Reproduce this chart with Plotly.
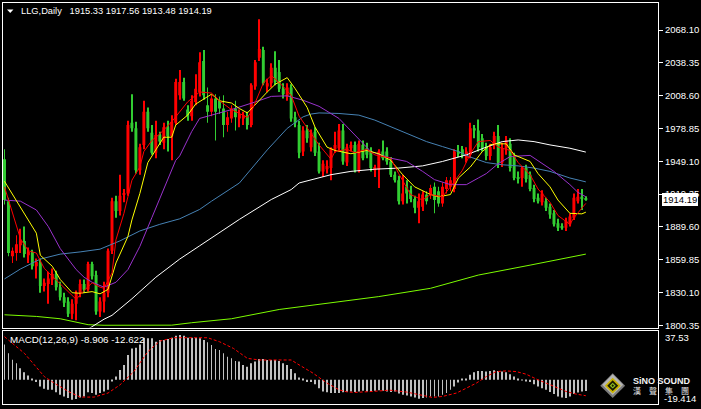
import plotly.graph_objects as go

# ---------------- data ----------------
opens = [1951,1913,1863,1866,1873,1877,1864,1867,1854,1857,1836,1838,1842,1847,1835,1826,1822,1811,1820,1830,
         1838,1833,1856,1846,1813,1822,1830,1868,1913,1904,1919,1920,1984,1979,1941,1964,1994,1975,1957,1973,
         1966,1980,1972,1984,2009,2021,1996,1990,2003,2012,2040,2000,1994,2006,2004,1997,1982,1988,1997,1988,
         1988,1991,1982,2017,2043,2050,2017,2020,2034,2030,2015,2008,2016,1989,1982,1958,1977,1962,1976,1958,
         1940,1942,1943,1960,1961,1977,1948,1961,1964,1941,1964,1961,1958,1941,1942,1958,1958,1949,1937,1932,
         1913,1926,1923,1915,1907,1908,1919,1919,1926,1922,1911,1924,1926,1924,1958,1960,1952,1955,1979,1977,
         1970,1962,1954,1964,1972,1948,1961,1965,1953,1935,1934,1943,1937,1925,1916,1912,1913,1908,1902,1893,
         1890,1889,1892,1898,1913,1917,1915.33]
highs = [1960,1916,1871,1882,1888,1890,1871,1869,1861,1861,1843,1849,1852,1850,1840,1830,1826,1824,1832,1842,
         1842,1858,1858,1850,1826,1840,1870,1916,1918,1937,1924,1986,2010,1985,1965,2004,1998,1982,1986,1976,
         1984,1986,1991,2024,2032,2025,2000,2009,2028,2048,2050,2016,2010,2010,2008,2009,1994,2000,2004,1996,
         1994,1994,2020,2041,2078,2053,2024,2038,2049,2041,2020,2020,2019,1994,1986,1981,1982,1978,1980,1966,
         1950,1950,1962,1976,1983,1983,1965,1967,1967,1968,1968,1966,1962,1946,1960,1968,1962,1953,1940,1936,
         1937,1932,1927,1918,1920,1922,1922,1928,1930,1926,1930,1935,1935,1960,1964,1963,1962,1984,1982,1987,
         1974,1966,1965,1976,1982,1966,1972,1970,1957,1940,1945,1946,1940,1928,1920,1923,1916,1911,1905,1897,
         1893,1898,1902,1920,1924,1924,1917.56]
lows = [1910,1863,1857,1859,1866,1862,1857,1851,1843,1830,1831,1820,1837,1832,1823,1817,1808,1806,1805,1826,
        1830,1831,1842,1810,1808,1812,1826,1865,1898,1900,1912,1918,1976,1938,1937,1960,1976,1955,1952,1964,
        1960,1958,1950,1982,2005,2004,1986,1986,2000,2008,2005,1984,1990,1968,1992,1971,1976,1984,1977,1980,
        1982,1978,1980,2014,2040,2018,2012,2016,2018,2012,2006,2004,1985,1980,1952,1954,1966,1958,1954,1938,
        1935,1938,1932,1957,1958,1946,1945,1958,1939,1939,1950,1952,1940,1935,1925,1950,1946,1935,1930,1910,
        1910,1911,1912,1902,1893,1904,1910,1915,1902,1908,1908,1920,1922,1921,1953,1952,1948,1952,1970,1958,
        1958,1950,1950,1960,1943,1944,1955,1940,1932,1929,1926,1930,1922,1912,1911,1909,1904,1897,1890,1886,
        1887,1886,1890,1896,1911,1905,1913.48]
closes = [1914,1866,1868,1874,1877,1865,1867,1854,1858,1836,1839,1843,1847,1835,1826,1821,1811,1820,1830,1838,
          1833,1856,1845,1813,1822,1830,1868,1913,1904,1918,1920,1982,1979,1941,1962,1994,1979,1957,1973,1967,
          1980,1972,1985,2021,2021,2006,1990,2004,2015,2039,2009,1994,2006,1994,1997,1982,1989,1997,1989,1992,
          1991,1982,2018,2039,2051,2020,2020,2034,2021,2015,2010,2016,1988,1984,1957,1977,1970,1975,1957,1940,
          1947,1945,1961,1964,1977,1949,1962,1964,1941,1965,1952,1955,1943,1944,1958,1952,1949,1937,1932,1913,
          1920,1920,1915,1907,1913,1919,1913,1925,1914,1911,1926,1932,1932,1958,1956,1955,1958,1979,1977,1962,
          1961,1954,1962,1972,1948,1961,1968,1943,1934,1934,1943,1933,1924,1915,1913,1920,1907,1901,1892,1889,
          1889,1895,1899,1916,1917,1915,1914.19]
idx = list(range(len(closes)))

# moving averages (candle index, value)
ma_red_i = [0,2,4,6,8,10,12,15,17,18,20,22,24,25,27,28,30,32,34,35,37,39,42,46,49,52,54,57,61,62,65,67,70,72,74,
            77,79,82,83,86,88,91,93,97,99,102,105,107,110,112,115,117,119,122,124,127,129,132,134,137,139,142,143,146]
ma_red_v = [1926,1903,1879,1868,1866,1852,1845,1835,1828,1824,1832,1839,1835,1834,1848,1878,1902,1932,1944,1958,
            1968,1974,1985,2003,2012,2011,2004,1996,1989,1994,2020,2027,2017,2009,1990,1975,1964,1951,1958,1960,
            1957,1960,1955,1952,1938,1919,1914,1919,1917,1926,1941,1956,1967,1968,1962,1959,1948,1937,1924,1912,
            1900,1892,1898,1911]
ma_yel_i = [0,4,8,9,12,14,17,19,22,24,26,28,31,32,34,36,38,40,42,43,46,48,52,54,57,59,61,63,66,68,71,73,76,78,81,
            83,87,91,94,97,100,103,107,109,112,114,117,120,122,123,126,128,132,134,137,139,142,145,146]
ma_yel_v = [1931,1908,1884,1864,1854,1842,1830,1829.5,1831,1829,1833,1857,1881,1896,1920,1948,1960,1971,1971,1982,
            1991,2001,2010,2004,2002,1997,1993,2001,2012,2019,2025,2015,1998,1980,1962,1959,1956,1959,1956,1950,
            1937,1926,1919,1917,1919,1934,1944,1958,1964,1965,1965,1955,1949,1938,1926,1914,1902,1901.5,1903]
ma_pur_i = [0,4,8,11,14,18,20,22,25,28,31,34,37,41,43,44,47,49,52,57,63,67,71,75,79,84,88,92,97,101,105,108,112,
            116,119,121,124,127,132,135,138,142,144,146]
ma_pur_v = [1914,1913,1905,1890,1870,1851,1844,1839.5,1835,1839.5,1851,1872,1898,1932,1950,1954,1976,1988,1991,
            1996,2003,2008,2008.5,2004.5,1999,1988,1973,1958,1952,1949,1940,1932.5,1928,1928,1934,1938,1947,1953.5,
            1954.5,1947.5,1940,1928,1921,1917]
ma_blu_i = [0,4,9,14,19,24,29,34,39,44,49,52,59,66,71,75,77,79,84,89,93,97,102,106,110,114,117,121,125,129,133,
            137,142,146]
ma_blu_v = [1842.5,1851.5,1860.5,1865,1867,1869.5,1877,1886,1892,1897,1905.5,1913,1929.5,1959.5,1979,1989.5,1992,
            1993,1992.5,1991,1986.5,1980.5,1973,1967,1962.5,1958,1953,1948,1946,1945,1943,1940,1934,1930.5]
ma_wht_i = [21,25,27,32,38,44,49,59,67,72,74,77,79,82,87,93,99,105,110,116,121,125,129,133,137,142,146]
ma_wht_v = [1797,1806,1809.5,1824.5,1844,1860.5,1872.5,1896.5,1914.5,1923.5,1929.5,1932.5,1934,1937,1940,1942,
            1943,1945,1949,1955,1962,1967,1968.5,1967,1964,1961,1957.5]
ma_grn_i = [0,8,14,21,25,35,42,47,57,69,82,94,107,119,132,146]
ma_grn_v = [1810,1808.5,1806.4,1801,1800.5,1800.4,1800.6,1802.8,1806.4,1814.8,1820.8,1826.5,1834,1846,1855,1865]

# MACD main (histogram) per candle and signal line
macd_hist = [28.2,21.1,15.9,13.2,9.3,6.0,3.4,0.5,-1.8,-5.3,-7.1,-7.9,-7.9,-9.8,-11.9,-13.2,-14.5,-15.8,-15.3,-14.0,
             -13.2,-9.8,-10.5,-11.9,-10.5,-9.2,-7.9,-1.3,2.6,7.9,11.9,19.8,25.0,25.6,28.2,33.5,33.0,33.0,30.3,31.7,
             31.7,32.4,33.5,35.0,35.6,35.0,33.5,33.5,33.5,33.0,31.7,29.9,27.7,24.6,23.7,21.1,18.4,17.1,15.0,14.5,
             11.9,10.5,13.2,14.5,16.6,16.6,15.8,15.8,15.8,15.0,13.2,11.9,8.7,5.3,1.8,0.3,-1.8,-1.8,-3.4,-6.6,
             -9.2,-9.8,-10.5,-10.5,-10.5,-9.8,-9.5,-9.2,-9.7,-9.2,-8.7,-9.2,-9.2,-8.7,-8.2,-8.7,-9.2,-9.7,-9.2,-10.8,
             -11.9,-12.4,-13.2,-14.0,-15.0,-14.5,-14.0,-13.2,-13.2,-13.2,-11.9,-10.5,-7.9,-5.3,-2.1,0.3,0.8,4.0,6.0,7.1,
             7.1,6.6,7.1,7.6,7.1,6.6,6.0,4.5,2.6,0.8,0.2,-0.8,-1.8,-3.4,-5.3,-6.6,-7.9,-9.7,-11.3,-13.2,
             -14.0,-14.5,-13.2,-11.3,-10.0,-9.2,-8.906]
sig_i = [0,2.5,5,7.5,10,12.5,16,19,22.5,26,29,32.5,36,39,42.5,51,54,57.5,61,64,72,74,77.5,81,84,86,88,92.5,96.75,
         101,104,107.5,110,113.5,116,118.5,121,123.5,126,128.5,131,134,137.5,141,143.5,145,146]
sig_v = [34.3,27.7,21.1,11.9,2.6,-2.6,-9.2,-13.7,-13.7,-10.5,-4.0,6.6,22.4,30.8,33.5,33.5,30.3,25.0,17.1,15.8,15.8,
         11.9,5.3,-2.6,-7.9,-9.6,-10.0,-9.2,-8.2,-9.7,-11.9,-14.0,-13.2,-10.5,-6.6,-2.6,2.6,6.6,7.1,6.6,4.5,0.0,
         -4.5,-9.2,-11.3,-12.4,-12.622]

price_ticks = [2068.10,2038.35,2008.60,1978.85,1949.10,1919.35,1889.60,1859.85,1830.10,1800.35]
title_text = "LLG,Daily\u00a0\u00a0 1915.33 1917.56 1913.48 1914.19"
macd_text = "MACD(12,26,9) -8.906 -12.622"
macd_max_label = "37.53"
macd_min_label = "-19.414"
last_price = 1914.19

# ---------------- styling ----------------
UP = "#FF0000"
DOWN = "#32CD32"
W, H = 701, 409
ML, MR, MT, MB = 2, 41, 2, 3
PW, PH = W - ML - MR, H - MT - MB


def pxx(x):
    return (x - ML) / PW


def pxy(y):
    return (H - MB - y) / PH


FONT = "Liberation Sans, Arial, sans-serif"

fig = go.Figure()

colors = [UP if c >= o else DOWN for o, c in zip(opens, closes)]
fig.add_trace(go.Bar(x=idx, y=[h - l for h, l in zip(highs, lows)], base=lows, width=0.22,
                     marker=dict(color=colors, line=dict(width=0)), xaxis="x", yaxis="y"))
fig.add_trace(go.Bar(x=idx, y=[max(abs(c - o), 0.9) for o, c in zip(opens, closes)],
                     base=[min(o, c) for o, c in zip(opens, closes)], width=0.74,
                     marker=dict(color=colors, line=dict(width=0)), xaxis="x", yaxis="y"))

for xs, ys, col in [(ma_grn_i, ma_grn_v, "#7CFC00"), (ma_wht_i, ma_wht_v, "#FFFFFF"),
                    (ma_blu_i, ma_blu_v, "#4682B4"), (ma_pur_i, ma_pur_v, "#9932CC"),
                    (ma_yel_i, ma_yel_v, "#FFFF00"), (ma_red_i, ma_red_v, "#FF0000")]:
    fig.add_trace(go.Scatter(x=xs, y=ys, mode="lines", line=dict(color=col, width=1),
                             xaxis="x", yaxis="y"))

fig.add_trace(go.Bar(x=idx, y=macd_hist, width=0.22, marker=dict(color="#C0C0C0", line=dict(width=0)),
                     xaxis="x2", yaxis="y2"))
fig.add_trace(go.Scatter(x=sig_i, y=sig_v, mode="lines", line=dict(color="#FF0000", width=1, dash="3px,2px"),
                         xaxis="x2", yaxis="y2"))

xr = [-0.375, 164.125]
main_bottom = pxy(329.0)
macd_top = pxy(332.0)

axis_common = dict(showgrid=False, zeroline=False, showline=True, linecolor="#FFFFFF", linewidth=1, mirror=True)

fig.update_layout(
    width=W, height=H,
    margin=dict(l=ML, r=MR, t=MT, b=MB, pad=0),
    paper_bgcolor="#000000", plot_bgcolor="#000000",
    showlegend=False, hovermode=False, barmode="overlay",
    xaxis=dict(domain=[0, 1], range=xr, anchor="y", showticklabels=False, ticks="", **axis_common),
    yaxis=dict(domain=[main_bottom, 1], range=[1798.4, 2092.67], anchor="x", side="right",
               tickvals=price_ticks, ticktext=[f"{v:.2f}" for v in price_ticks],
               ticks="outside", ticklen=4, tickcolor="#FFFFFF", tickwidth=1,
               tickfont=dict(family=FONT, size=9.5, color="#FFFFFF"), **axis_common),
    xaxis2=dict(domain=[0, 1], range=xr, anchor="y2", showticklabels=False, ticks="", **axis_common),
    yaxis2=dict(domain=[0, macd_top], range=[-19.2, 39.2], anchor="x2", side="right",
                showticklabels=False, ticks="", **axis_common),
)

shapes = []
# title triangle
shapes.append(dict(type="path", xref="paper", yref="paper",
                   path=f"M {pxx(6)} {pxy(8.5)} L {pxx(12.5)} {pxy(8.5)} L {pxx(9.25)} {pxy(12)} Z",
                   fillcolor="#FFFFFF", line=dict(width=0)))


def diamond(cx, cy, r, color):
    return dict(type="path", xref="paper", yref="paper",
                path=(f"M {pxx(cx)} {pxy(cy - r)} L {pxx(cx + r)} {pxy(cy)} "
                      f"L {pxx(cx)} {pxy(cy + r)} L {pxx(cx - r)} {pxy(cy)} Z"),
                fillcolor=color, line=dict(width=0), layer="above")


cx, cy = 614.5, 387.5
shapes += [diamond(cx, cy, 12.5, "#7a7a7a"), diamond(cx, cy - 1, 10.5, "#b5b5b5"),
           diamond(cx, cy, 8, "#c9b200"), diamond(cx, cy, 5.5, "#1a1a00"), diamond(cx, cy, 3, "#8fbf1f"),
           diamond(cx, cy, 1.3, "#1a1a00")]
fig.update_layout(shapes=shapes)

ann = [
    dict(xref="paper", yref="paper", x=pxx(18), y=pxy(10), xanchor="left", yanchor="middle",
         text=title_text, showarrow=False, font=dict(family=FONT, size=9.3, color="#FFFFFF")),
    dict(xref="paper", yref="paper", x=pxx(7), y=pxy(341), xanchor="left", yanchor="middle",
         text=macd_text, showarrow=False, font=dict(family=FONT, size=9.8, color="#FFFFFF")),
    dict(xref="paper", yref="paper", x=pxx(665), y=pxy(338.5), xanchor="left", yanchor="middle",
         text=macd_max_label, showarrow=False, font=dict(family=FONT, size=9.5, color="#FFFFFF")),
    dict(xref="paper", yref="paper", x=pxx(664), y=pxy(400), xanchor="left", yanchor="middle",
         text=macd_min_label, showarrow=False, font=dict(family=FONT, size=9.5, color="#FFFFFF")),
    dict(xref="paper", yref="y", x=1, y=last_price, xanchor="left", yanchor="middle", xshift=4,
         text=f"{last_price:.2f}", showarrow=False, bgcolor="#FFFFFF", bordercolor="#FFFFFF",
         borderpad=0, borderwidth=1, font=dict(family=FONT, size=9.5, color="#000000")),
    dict(xref="paper", yref="paper", x=pxx(633), y=pxy(382.5), xanchor="left", yanchor="middle",
         text="<b>SiNO SOUND</b>", showarrow=False, font=dict(family=FONT, size=9, color="#F2F2F2")),
    dict(xref="paper", yref="paper", x=pxx(633), y=pxy(392.5), xanchor="left", yanchor="middle",
         text="漢\u3000聲\u3000集\u3000團", showarrow=False,
         font=dict(family="Noto Sans CJK TC", size=8, color="#E6E6E6")),
]
fig.update_layout(annotations=ann)

fig.write_html("out.html", config={"displayModeBar": False},
               post_script="document.body.style.margin='0';document.body.style.background='#000';")
